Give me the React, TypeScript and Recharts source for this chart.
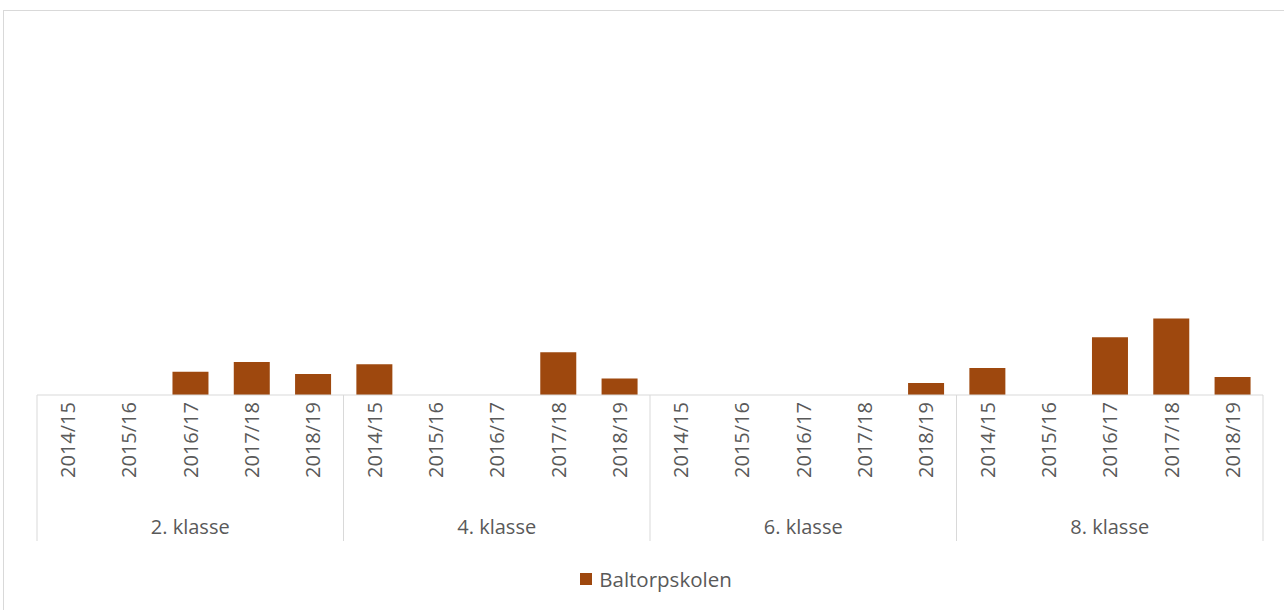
import { Bar, BarChart, XAxis, YAxis } from 'recharts'

const klasser = ['2. klasse', '4. klasse', '6. klasse', '8. klasse']
const skoleaar = ['2014/15', '2015/16', '2016/17', '2017/18', '2018/19']
const klasse2 = [null, null, 3.1, 4.4, 2.8]
const klasse4 = [4.1, null, null, 5.7, 2.2]
const klasse6 = [null, null, null, null, 1.6]
const klasse8 = [3.6, null, 7.7, 10.2, 2.4]
const serieNavn = 'Baltorpskolen'

const verdier = [klasse2, klasse4, klasse6, klasse8]
const data = klasser.flatMap((k, ki) =>
  skoleaar.map((aar, ai) => ({ klasse: k, aar, verdi: verdier[ki][ai] })),
)

const W = 1284
const H = 610
const M = { top: 20, right: 21, left: 37, bottom: 63 }
const BAND = (W - M.left - M.right) / data.length
const FARGE = '#9E480E'
const TEKST = '#595959'
const LINJE = '#d9d9d9'
const FONT = '"Open Sans", sans-serif'

function AarTick(props: any) {
  const { x, y, payload, index } = props
  const top = y - 8
  return (
    <g>
      {index % skoleaar.length === 0 && (
        <line x1={x - BAND / 2} x2={x - BAND / 2} y1={top} y2={top + 146} stroke={LINJE} />
      )}
      {index === data.length - 1 && (
        <line x1={x + BAND / 2} x2={x + BAND / 2} y1={top} y2={top + 146} stroke={LINJE} />
      )}
      <text
        transform={`translate(${x},${y + 37}) rotate(-90)`}
        textAnchor="middle"
        dominantBaseline="central"
        fill={TEKST}
        fontSize={20}
        fontFamily={FONT}
      >
        {payload.value}
      </text>
    </g>
  )
}

function KlasseTick(props: any) {
  const { x, y, payload, index } = props
  if (index % skoleaar.length !== 2) return <g />
  return (
    <text x={x} y={y + 33} textAnchor="middle" dominantBaseline="central" fill={TEKST} fontSize={20} fontFamily={FONT}>
      {payload.value}
    </text>
  )
}

export default function App() {
  return (
    <div style={{ position: 'absolute', left: 0, top: 0, width: W, height: H, overflow: 'hidden', background: '#fff' }}>
      <div style={{ position: 'absolute', left: 3, top: 10, width: W + 20, height: H + 20, border: `1px solid ${LINJE}` }} />
      <BarChart width={W} height={H} data={data} margin={M} barCategoryGap="21%">
        <YAxis hide domain={[0, 50]} />
        <XAxis
          xAxisId="aar"
          dataKey="aar"
          height={90}
          interval={0}
          tickLine={false}
          axisLine={{ stroke: LINJE }}
          tick={<AarTick />}
        />
        <XAxis
          xAxisId="klasse"
          dataKey="klasse"
          height={62}
          interval={0}
          tickLine={false}
          axisLine={false}
          tick={<KlasseTick />}
        />
        <Bar xAxisId="aar" dataKey="verdi" name={serieNavn} fill={FARGE} isAnimationActive={false} />
      </BarChart>
      <div
        style={{
          position: 'absolute',
          top: 565,
          left: 14,
          width: W,
          display: 'flex',
          justifyContent: 'center',
          alignItems: 'center',
          fontFamily: FONT,
          fontSize: 20.5,
          color: TEKST,
        }}
      >
        <span style={{ display: 'inline-block', width: 12, height: 12, background: FARGE, marginRight: 7 }} />
        {serieNavn}
      </div>
    </div>
  )
}
